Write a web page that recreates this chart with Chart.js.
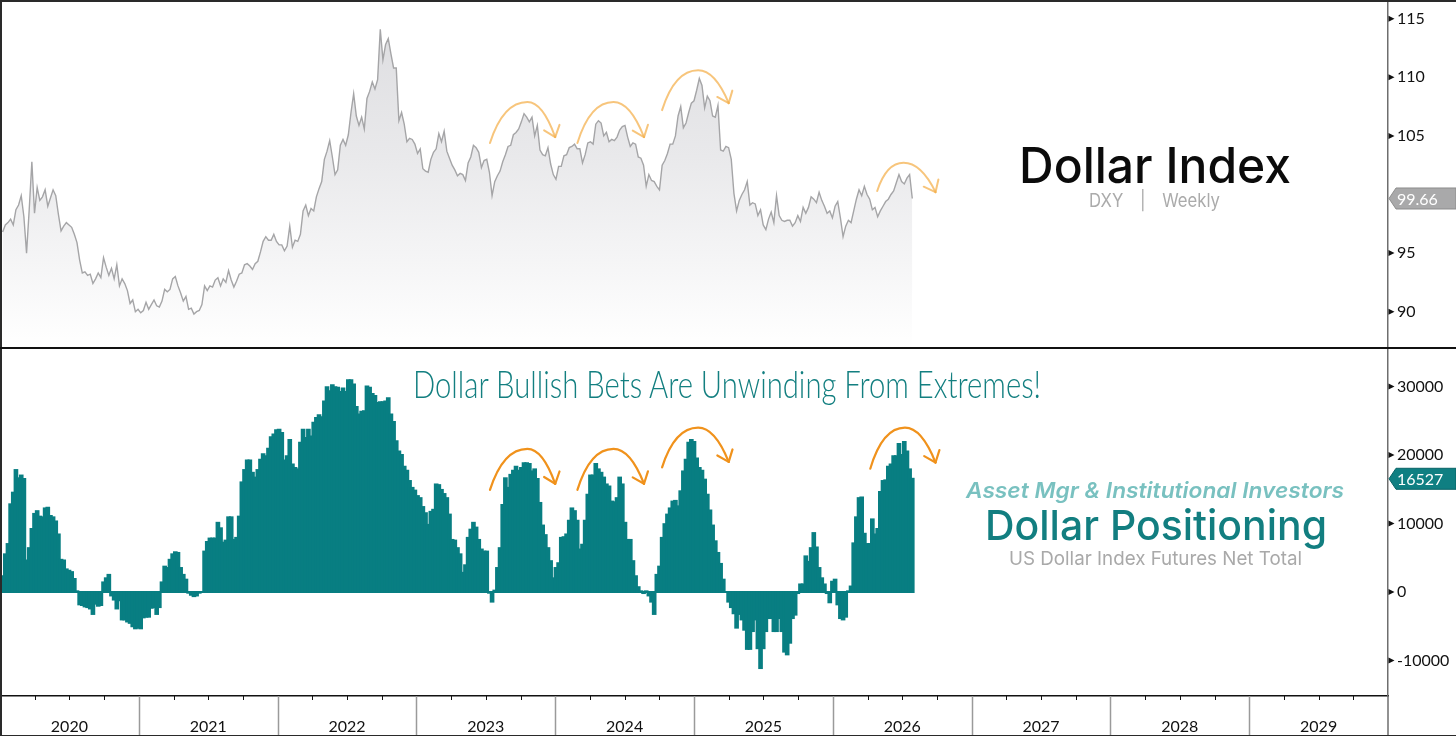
<!DOCTYPE html>
<html>
<head>
<meta charset="utf-8">
<script src="https://cdn.jsdelivr.net/npm/chart.js@4.4.1/dist/chart.umd.min.js"></script>
<style>
html,body{margin:0;padding:0;background:#fff;}
body{width:1456px;height:736px;position:relative;overflow:hidden;}
#c1wrap{position:absolute;left:0;top:0;width:1456px;height:348px;}
#c2wrap{position:absolute;left:0;top:348px;width:1456px;height:388px;}
.t{position:absolute;white-space:nowrap;line-height:1.2;left:0;top:0;transform-origin:0 0;}
.rule{position:absolute;background:#2a2a2a;}
</style>
</head>
<body>
<div id="c1wrap"><canvas id="c1" width="1456" height="348"></canvas></div>
<div id="c2wrap"><canvas id="c2" width="1456" height="388"></canvas></div>
<div class="rule" style="left:0;top:0;width:1456px;height:1.5px"></div>
<div class="rule" style="left:0;top:0;width:1.5px;height:736px"></div>
<div class="rule" style="left:0;top:347.3px;width:1456px;height:1.5px;background:#111"></div>
<div class="rule" style="left:0;top:734.5px;width:1456px;height:1.5px"></div>
<script>
// ---------------- DATA ----------------
const startDate = [2020, 0, 8];          // first weekly observation
const yearLabels = [2020, 2021, 2022, 2023, 2024, 2025, 2026, 2027, 2028, 2029];
const dxyTicks = [90, 95, 105, 110, 115];
const posTicks = [-10000, 0, 10000, 20000, 30000];

// US Dollar Index, weekly
const dxy = [
 96.8, 97.4, 97.6, 97.9, 97.4, 98.7, 99.1, 99.9, 98.1, 95.0, 98.7, 102.8, 98.4, 100.6, 99.5, 99.8, 100.4, 99.0, 99.7, 100.4,
 99.9, 98.3, 96.9, 97.3, 97.6, 97.4, 97.2, 96.6, 95.9, 94.4, 93.3, 93.4, 93.1, 93.2, 92.4, 92.8, 93.3, 92.9, 94.6, 93.8,
 93.1, 93.7, 92.8, 94.0, 92.2, 92.8, 92.4, 91.8, 90.7, 91.0, 90.0, 90.2,
 89.9, 90.1, 90.8, 90.2, 90.6, 91.0, 90.5, 90.4, 90.9, 91.9, 91.7, 91.9, 92.8, 93.0, 92.2, 91.6, 90.9, 91.3, 90.2, 90.3,
 89.8, 90.0, 90.1, 90.6, 92.2, 91.8, 92.2, 92.1, 92.7, 92.9, 92.2, 92.8, 92.5, 93.5, 92.7, 92.1, 92.6, 93.2, 93.3, 94.0,
 94.1, 93.9, 93.6, 94.1, 94.3, 95.1, 96.0, 96.4, 96.1, 96.1, 96.6, 96.0, 95.7,
 95.7, 95.2, 95.6, 97.3, 95.5, 96.1, 96.0, 96.6, 98.6, 99.1, 98.2, 98.8, 98.6, 99.8, 100.5, 101.1, 103.0, 103.7, 104.6, 103.2,
 101.7, 102.1, 104.2, 104.7, 104.2, 105.1, 107.0, 108.6, 106.7, 105.9, 106.6, 105.6, 108.2, 108.8, 109.6, 109.0, 109.8, 114.1, 111.5, 112.8,
 113.3, 112.0, 110.8, 110.8, 106.3, 107.0, 106.0, 104.5, 104.8, 104.7, 104.3, 103.5,
 103.9, 102.2, 102.0, 101.9, 103.0, 103.6, 103.9, 105.2, 104.5, 105.4, 103.7, 103.1, 102.5, 102.1, 101.6, 101.8, 101.7, 101.2, 102.7, 103.2,
 104.2, 104.0, 103.6, 102.3, 102.9, 103.0, 101.9, 99.9, 101.1, 101.6, 102.0, 102.8, 103.4, 104.1, 104.2, 105.1, 105.3, 105.6, 106.2, 106.9,
 106.6, 106.2, 106.6, 105.0, 105.9, 103.8, 103.4, 103.3, 104.0, 102.6, 101.7, 101.3,
 102.4, 102.4, 103.3, 103.4, 104.0, 104.1, 104.3, 103.9, 103.9, 102.7, 103.4, 104.4, 104.5, 104.3, 106.0, 106.3, 106.1, 105.0, 105.3, 104.5,
 104.7, 104.6, 104.9, 105.5, 105.8, 105.9, 104.9, 104.1, 104.4, 104.3, 103.2, 103.1, 102.5, 100.7, 101.7, 101.2, 101.1, 100.7, 100.4, 102.5,
 102.9, 103.5, 104.3, 104.3, 105.0, 106.7, 107.5, 105.7, 106.1, 107.0, 107.8, 108.0,
 108.9, 109.9, 109.3, 107.4, 108.4, 108.0, 106.7, 106.6, 107.6, 103.8, 103.7, 104.1, 104.0, 103.0, 100.1, 98.6, 99.5, 100.0, 100.4, 101.1,
 99.1, 99.3, 99.2, 98.2, 98.7, 97.4, 97.0, 97.9, 98.5, 97.6, 99.9, 98.2, 97.8, 97.7, 97.8, 97.8, 97.3, 97.6, 98.2, 97.7,
 98.9, 98.4, 98.9, 99.8, 99.6, 99.3, 100.2, 99.5, 99.0, 98.4, 98.6, 98.0,
 99.0, 99.4, 98.0, 96.4, 97.3, 97.8, 97.6, 98.6, 99.6, 100.4, 99.9, 100.7, 100.0, 99.6, 98.7, 98.9, 98.1, 98.6, 99.0, 99.4,
 99.6, 100.0, 100.3, 101.0, 101.7, 101.1, 100.9, 101.4, 101.7, 99.66
];

// Asset managers + institutional investors, US Dollar Index futures net position (contracts), weekly
const netPosition = [
 2300, 5500, 7000, 12800, 14500, 17800, 16600, 17000, 16500, 4600, 6400, 9200, 11400, 11800, 11000, 10900, 12200, 12300, 11100, 10900,
 10300, 8400, 4700, 4600, 3300, 3100, 2900, 1900, 100, -1800, -1900, -2100, -2200, -2400, -3200, -1700, -2000, -1900, 1400, 2000,
 2500, -500, -1100, -2400, -1200, -4000, -4000, -4300, -4500, -5000, -5300, -5200, -5300, -3700, -3600, -3600, -2300, -2200, -3200, -2200,
 1400, 3700, 3500, 4700, 5500, 5800, 5700, 3500, 2500, 1800, -100, -400, -600, -500, -100, 0, 5900, 7300, 7800, 7800,
 7800, 10100, 9300, 7200, 7500, 10900, 10900, 7600, 7900, 11000, 16000, 17800, 19200, 19200, 17400, 16700, 17800, 19300, 20100, 19800,
 20900, 22600, 23000, 23600, 23700, 23200, 19200, 19800, 22200, 18600, 18100, 17900, 21800, 23700, 22500, 23700,
 22700, 24700, 25400, 25800, 25500, 27800, 29900, 29300, 30200, 29900, 29800, 29200, 29700, 29200, 30900, 30900, 30300, 27000, 25900, 26300,
 26400, 30000, 29800, 28900, 28600, 27600, 27700, 27700, 27800, 28300, 25900, 24800, 22000, 20500, 20000, 18300, 17700, 16200, 15200, 14800,
 14000, 13700, 12400, 11500, 9800, 11700, 12000, 15700, 15600, 14900, 14300, 13700, 11300, 7600, 7500, 6400, 5500, 2800, 3900, 7900,
 9100, 10100, 9400, 7600, 6200, 5900, 5900, -100, -1400, 200, 3500, 6400, 12700, 16600, 15200, 17100, 17700, 18300, 17700, 18100,
 18800, 18800, 18700, 17600, 17900, 16500, 13000, 9700, 8300, 6400, 4500, 2000, 3500, 4200, 7900, 8000, 8400, 10400, 12200, 11800,
 10400, 6200, 6900, 10400, 14200, 17000, 17000, 18700, 17900, 17400, 16700, 15700,
 15400, 13200, 13100, 13700, 16700, 15700, 10100, 7600, 7600, 4500, 2300, 700, 100, -150, 100, -500, -1400, -3200, 2500, 3700,
 7900, 9900, 11300, 12200, 13200, 13300, 12500, 14700, 17600, 19300, 21800, 22200, 21900, 19500, 18100, 17700, 16400, 14200, 11900, 9700,
 7400, 5700, 4100, 1800, 0, -1400, -2200, -3100, -5200, -3200, -4000, -5500, -8300, -8300, -5700, -4000, -8200, -11100, -8200, -5700,
 -3800, -3800, -5700, -5700, -3800, -5700, -8700, -9100, -7400, -3800, -3300, -150, 1100, 1100, 5200, 4400, 6400, 8600, 6500, 3500,
 2000, 1100, -150, -1500, 1500, 1800, -1800, -3800, -4000, -3600, 100, 800, 7100, 10900, 13700, 13800, 8500, 7000, 7000, 10600,
 8400, 9200, 14600, 16200, 16300, 18300, 18600, 19800, 19800, 21600, 20000, 21900, 20500, 17900, 16527
];

// curved "roll-over" arrows: [xStart, yStart, xPeak, yPeak, xEnd, yEnd] in axis units
const arrowsTop = [
 [2023.53, 104.4, 2023.80, 107.9, 2024.00, 104.9],
 [2024.16, 104.4, 2024.42, 107.9, 2024.64, 104.9],
 [2024.77, 107.2, 2025.03, 110.6, 2025.25, 107.8],
 [2026.32, 100.3, 2026.51, 102.7, 2026.74, 100.2]
];
const arrowsBottom = [
 [2023.53, 14900, 2023.80, 20900, 2024.00, 15800],
 [2024.16, 14900, 2024.42, 20900, 2024.64, 15800],
 [2024.77, 18200, 2025.03, 24000, 2025.25, 19000],
 [2026.27, 18000, 2026.52, 24000, 2026.74, 18900]
];

// ---------------- HELPERS ----------------
const DAY = 864e5;
const t0 = Date.UTC(startDate[0], startDate[1], startDate[2]);
function fracYear(ms){
  const d = new Date(ms); const y = d.getUTCFullYear();
  const a = Date.UTC(y,0,1), b = Date.UTC(y+1,0,1);
  return y + (ms - a) / (b - a);
}
const weekX = dxy.map((_, i) => fracYear(t0 + i * 7 * DAY));

Chart.defaults.font.family = 'Lato';

function drawArrow(ctx, p0, pp, p1, color, lw){
  ctx.save();
  ctx.strokeStyle = color; ctx.lineWidth = lw; ctx.lineCap = 'round'; ctx.lineJoin = 'round';
  const c1 = {x: p0.x + (pp.x - p0.x) * 0.35, y: pp.y};
  const c2 = {x: pp.x + (p1.x - pp.x) * 0.55, y: pp.y};
  ctx.beginPath();
  ctx.moveTo(p0.x, p0.y);
  ctx.quadraticCurveTo(c1.x, c1.y, pp.x, pp.y);
  ctx.quadraticCurveTo(c2.x, c2.y, p1.x, p1.y);
  ctx.stroke();
  let dx = p1.x - c2.x, dy = p1.y - c2.y; const L = Math.hypot(dx, dy); dx /= L; dy /= L;
  const wl = 13, ang = 0.68;
  [-1, 1].forEach(s => {
    const ca = Math.cos(s * ang), sa = Math.sin(s * ang);
    const bx = -dx, by = -dy;
    const rx = bx * ca - by * sa, ry = bx * sa + by * ca;
    ctx.beginPath(); ctx.moveTo(p1.x, p1.y); ctx.lineTo(p1.x + rx * wl, p1.y + ry * wl); ctx.stroke();
  });
  ctx.restore();
}

function drawTag(ctx, x, y, text, bg, border){
  const h = 21, tip = 7, right = 1456;
  ctx.save();
  ctx.beginPath();
  ctx.moveTo(x + 1, y); ctx.lineTo(x + 1 + tip, y - h / 2); ctx.lineTo(right, y - h / 2);
  ctx.lineTo(right, y + h / 2); ctx.lineTo(x + 1 + tip, y + h / 2); ctx.closePath();
  ctx.fillStyle = bg; ctx.fill(); ctx.strokeStyle = border; ctx.lineWidth = 1; ctx.stroke();
  ctx.fillStyle = '#fff'; ctx.font = '16px Lato'; ctx.textBaseline = 'middle'; ctx.textAlign = 'left';
  ctx.fillText(text, x + 9, y + 1);
  ctx.restore();
}

function makeDeco(cfg){
  return {
    id: 'deco',
    afterDatasetsDraw(chart){
      const ctx = chart.ctx, xs = chart.scales.x, ys = chart.scales.y;
      cfg.arrows.forEach(a => {
        drawArrow(ctx,
          {x: xs.getPixelForValue(a[0]), y: ys.getPixelForValue(a[1])},
          {x: xs.getPixelForValue(a[2]), y: ys.getPixelForValue(a[3])},
          {x: xs.getPixelForValue(a[4]), y: ys.getPixelForValue(a[5])},
          cfg.arrowColor, cfg.arrowWidth);
      });
    },
    afterDraw(chart){
      const ctx = chart.ctx, xs = chart.scales.x, ys = chart.scales.y;
      ctx.save();
      ctx.fillStyle = '#111';
      ys.ticks.forEach(t => {
        const y = ys.getPixelForValue(t.value), x = ys.left + 0.5;
        ctx.beginPath(); ctx.moveTo(x, y - 3); ctx.lineTo(x + 6, y); ctx.lineTo(x, y + 3); ctx.closePath(); ctx.fill();
      });
      if (cfg.timeAxis) {
        const top = xs.top, bottom = chart.height;
        ctx.strokeStyle = '#9a9a9a'; ctx.lineWidth = 1.5;
        yearLabels.forEach(yr => {
          if (yr === yearLabels[0]) return;
          const x = Math.round(xs.getPixelForValue(yr)) + 0.5;
          ctx.beginPath(); ctx.moveTo(x, top); ctx.lineTo(x, bottom); ctx.stroke();
        });
        ctx.strokeStyle = '#111'; ctx.lineWidth = 1;
        yearLabels.forEach(yr => {
          [0.25, 0.5, 0.75].forEach(q => {
            const x = Math.round(xs.getPixelForValue(yr + q)) + 0.5;
            ctx.beginPath(); ctx.moveTo(x, top); ctx.lineTo(x, top + 4); ctx.stroke();
          });
        });
        ctx.strokeStyle = '#6e6e6e'; ctx.lineWidth = 1.5;
        ctx.beginPath(); ctx.moveTo(ys.left, chart.chartArea.bottom); ctx.lineTo(ys.left, bottom); ctx.stroke();
      }
      ctx.restore();
      const last = cfg.series[cfg.series.length - 1];
      drawTag(ctx, ys.left, ys.getPixelForValue(last), cfg.tagText, cfg.tagBg, cfg.tagBorder);
    }
  };
}

function yAxis(min, max, ticks){
  return {
    position: 'right', min: min, max: max,
    grid: {display: false, drawTicks: false},
    border: {display: true, color: '#6e6e6e', width: 1.5},
    ticks: {color: '#111', font: {family: 'Lato', size: 16}, padding: 9, autoSkip: false, callback: v => String(v)},
    afterBuildTicks: s => { s.ticks = ticks.map(v => ({value: v})); },
    afterFit: s => { s.width = 68; s.paddingTop = 0; s.paddingBottom = 0; }
  };
}

// ---------------- TOP: DOLLAR INDEX ----------------
new Chart(document.getElementById('c1'), {
  type: 'line',
  data: {datasets: [{
    data: dxy.map((v, i) => ({x: weekX[i], y: v})),
    borderColor: '#a5a5a7', borderWidth: 1.4, pointRadius: 0, tension: 0,
    fill: 'start',
    backgroundColor: c => {
      const ca = c.chart.chartArea; if (!ca) return '#eeeeee';
      const g = c.chart.ctx.createLinearGradient(0, ca.top, 0, ca.bottom);
      g.addColorStop(0, '#dcdcdf'); g.addColorStop(0.45, '#e9e9eb'); g.addColorStop(1, '#ffffff');
      return g;
    }
  }]},
  options: {
    responsive: false, animation: false, events: [],
    layout: {padding: 0},
    plugins: {legend: {display: false}, tooltip: {enabled: false}},
    scales: {
      x: {type: 'linear', min: 2020, max: 2030, display: false, offset: false},
      y: yAxis(86.9, 116.6, dxyTicks)
    }
  },
  plugins: [makeDeco({arrows: arrowsTop, arrowColor: 'rgba(244,178,80,0.75)', arrowWidth: 2, timeAxis: false,
                      series: dxy, tagText: '99.66', tagBg: '#a9a9aa', tagBorder: '#8d8d8d'})]
});

// ---------------- BOTTOM: POSITIONING ----------------
new Chart(document.getElementById('c2'), {
  type: 'bar',
  data: {datasets: [{
    data: netPosition.map((v, i) => ({x: weekX[i], y: v})),
    backgroundColor: '#087e82', borderWidth: 0, inflateAmount: 1, barPercentage: 1, categoryPercentage: 1
  }]},
  options: {
    responsive: false, animation: false, events: [],
    layout: {padding: 0},
    plugins: {legend: {display: false}, tooltip: {enabled: false}},
    scales: {
      x: {
        type: 'linear', min: 2020, max: 2030, offset: false, position: 'bottom',
        grid: {display: false, drawTicks: false},
        border: {display: true, color: '#111', width: 1.5},
        ticks: {color: '#111', font: {family: 'Lato', size: 16}, padding: 21, autoSkip: false, maxRotation: 0,
                callback: (v, i) => String(yearLabels[i])},
        afterBuildTicks: s => { s.ticks = yearLabels.map(y => ({value: y + 0.5})); },
        afterFit: s => { s.height = 40; s.paddingLeft = 0; s.paddingRight = 0; }
      },
      y: yAxis(-15180, 35620, posTicks)
    }
  },
  plugins: [makeDeco({arrows: arrowsBottom, arrowColor: '#f0921c', arrowWidth: 2.2, timeAxis: true,
                      series: netPosition, tagText: '16527', tagBg: '#0f7f82', tagBorder: '#0a6467'})]
});

// ---------------- TITLES (HTML text, fitted to their boxes) ----------------
const titles = [
  {text: 'Dollar Index', font: '500 49px Inter', color: '#0b0b0b', left: 1019, right: 1291, baseline: 183},
  {text: 'DXY\u2003|\u2003Weekly', font: '400 18.5px Inter', color: '#ababab', left: 1089, right: 1220, baseline: 206.5},
  {text: 'Dollar Bullish Bets Are Unwinding From Extremes!', font: '300 37px Lato', color: '#137f80', left: 413, right: 1041, baseline: 397.5},
  {text: 'Asset Mgr & Institutional Investors', font: 'italic 600 22px Inter', color: '#79c1c0', left: 966, right: 1344, baseline: 497.5},
  {text: 'Dollar Positioning', font: '500 41px Inter', color: '#127e80', left: 985, right: 1327, baseline: 540},
  {text: 'US Dollar Index Futures Net Total', font: '400 19px Inter', color: '#a9a9a9', left: 1009, right: 1302, baseline: 565}
];
titles.forEach(s => {
  const d = document.createElement('div'); d.className = 't';
  d.style.font = s.font; d.style.color = s.color; d.style.lineHeight = '1.2';
  const span = document.createElement('span'); span.textContent = s.text;
  const mark = document.createElement('span');
  mark.style.display = 'inline-block'; mark.style.width = '0'; mark.style.height = '0'; mark.style.verticalAlign = 'baseline';
  d.appendChild(span); d.appendChild(mark);
  document.body.appendChild(d);
  const w = span.getBoundingClientRect().width;
  const base = mark.offsetTop;
  d.style.left = s.left + 'px';
  d.style.top = (s.baseline - base) + 'px';
  d.style.transform = 'scaleX(' + ((s.right - s.left) / w).toFixed(4) + ')';
});
</script>
</body>
</html>
